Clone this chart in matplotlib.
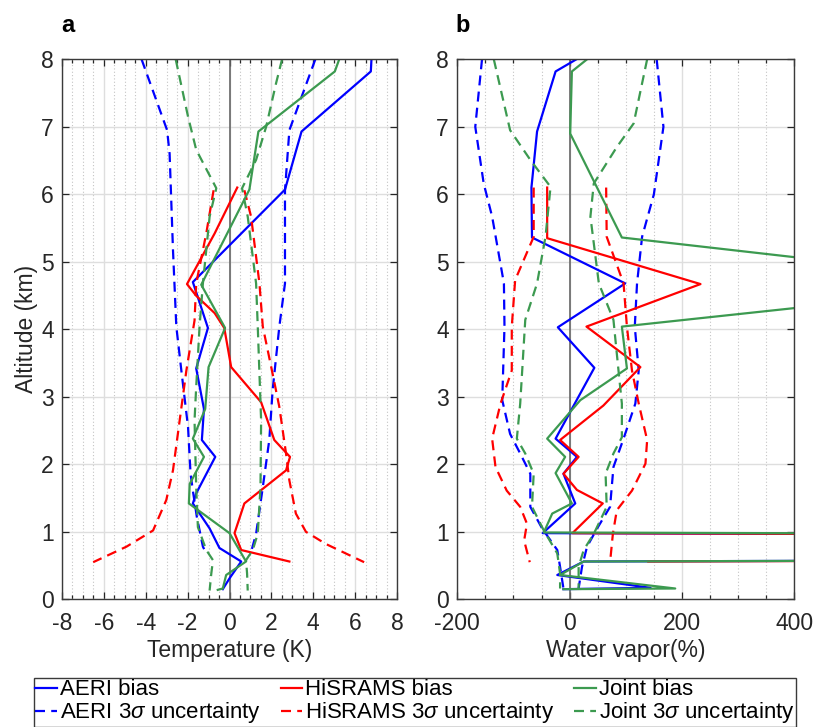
import numpy as np
import matplotlib
matplotlib.use('Agg')
import matplotlib.pyplot as plt
from matplotlib.ticker import MultipleLocator

plt.rcParams['font.family'] = ['Liberation Sans', 'DejaVu Sans']
plt.rcParams['axes.unicode_minus'] = False
plt.rcParams['mathtext.fontset'] = 'custom'
plt.rcParams['mathtext.it'] = 'Liberation Sans:italic'

# ---- a: temperature (K) ----
t_aeri_bias_x = [6.78, 6.75, 3.44, 2.65, -1.75, -1.03, -1.59, -1.22, -1.32, -0.68, -1.59, -1.75, -0.95, -0.48, 0.56, 0.0, -0.32]
t_aeri_bias_y = [8.0, 7.82, 6.93, 6.07, 4.70, 4.02, 3.42, 2.82, 2.36, 2.11, 1.57, 1.42, 1.05, 0.76, 0.56, 0.31, 0.15]
t_hisrams_bias_x = [0.37, -0.71, -2.03, -1.6, -0.71, -0.25, 0.08, 1.51, 2.14, 2.89, 2.7, 0.71, 0.24, 0.56, 2.86]
t_hisrams_bias_y = [6.10, 5.42, 4.67, 4.50, 4.24, 4.02, 3.44, 2.92, 2.36, 2.11, 1.91, 1.42, 0.98, 0.73, 0.56]
t_joint_bias_x = [5.24, 5.03, 1.38, 0.95, -1.35, -0.21, -1.0, -1.16, -1.75, -1.22, -1.9, -1.94, 0.0, 0.79, -0.16, -0.32, -0.56]
t_joint_bias_y = [8.0, 7.82, 6.93, 6.07, 4.66, 4.02, 3.44, 2.82, 2.38, 2.11, 1.71, 1.42, 0.98, 0.56, 0.36, 0.16, 0.14]

t_aeri_lo_x = [-4.2, -2.98, -2.86, -2.7, -2.54, -2.3, -1.98, -1.86, -1.75, -1.56, -1.27, -1.11]
t_aeri_lo_y = [8.0, 6.95, 6.6, 5.18, 4.04, 3.39, 2.55, 1.86, 1.61, 1.22, 0.78, 0.68]
t_aeri_hi_x = [4.1, 2.86, 2.65, 2.65, 2.38, 2.06, 1.9, 1.59, 1.27, 1.03]
t_aeri_hi_y = [8.0, 6.95, 6.06, 4.68, 4.04, 3.10, 2.36, 1.66, 0.97, 0.70]
t_hisrams_lo_x = [-0.76, -1.11, -1.59, -1.67, -2.06, -2.38, -2.7, -3.02, -3.65, -4.92, -6.51]
t_hisrams_lo_y = [6.06, 5.42, 4.68, 4.13, 3.39, 2.65, 1.91, 1.47, 1.02, 0.78, 0.55]
t_hisrams_hi_x = [0.71, 1.03, 1.43, 1.59, 2.06, 2.38, 2.7, 2.86, 3.17, 3.65, 4.6, 6.43]
t_hisrams_hi_y = [6.06, 5.67, 4.68, 4.04, 3.34, 2.85, 2.16, 1.76, 1.27, 1.0, 0.82, 0.55]
t_joint_lo_x = [-2.57, -1.98, -1.59, -0.63, -0.95, -1.27, -1.43, -1.59, -1.67, -1.59, -1.51, -1.11, -0.79, -0.87, -0.95]
t_joint_lo_y = [8.0, 7.15, 6.66, 6.09, 5.67, 4.68, 4.04, 3.15, 2.65, 1.66, 1.07, 0.73, 0.58, 0.38, 0.13]
t_joint_hi_x = [2.51, 2.22, 1.75, 1.27, 0.6, 0.87, 1.27, 1.35, 1.51, 1.48, 1.35, 1.11, 0.79, 0.84, 0.87]
t_joint_hi_y = [8.0, 7.64, 7.0, 6.51, 6.09, 5.67, 4.68, 4.04, 2.65, 1.66, 0.97, 0.73, 0.58, 0.38, 0.13]

# ---- b: water vapor (%) ----
q_aeri_bias_x = [12, -25, -58, -68, -67, 99, -21, 44, -25, 13, -11, 10, -48, 9000, 25, -22, 144, -11]
q_aeri_bias_y = [8.0, 7.82, 6.93, 6.10, 5.36, 4.68, 4.03, 3.43, 2.38, 2.11, 1.86, 1.42, 0.98, 0.77, 0.56, 0.36, 0.17, 0.15]
q_hisrams_bias_x = [-40, -40, 233, 30, 126, 60, -17, 16, -11, 13, 59, 5, 9000, 140]
q_hisrams_bias_y = [6.10, 5.35, 4.67, 4.04, 3.44, 2.87, 2.36, 2.11, 1.86, 1.62, 1.42, 0.98, 0.77, 0.56]
q_joint_bias_x = [31, 4, 1, 93, 810, 93, 102, 19, -40, -8, -25, 4, -31, -46, 9000, 25, -17, 188, -11]
q_joint_bias_y = [8.0, 7.82, 6.90, 5.36, 4.68, 4.04, 3.42, 2.95, 2.38, 2.11, 1.87, 1.42, 1.27, 0.99, 0.77, 0.56, 0.36, 0.16, 0.15]

q_aeri_lo_x = [-156, -168, -153, -138, -117, -116, -120, -106, -88, -70, -70, -49, -22, -17, -11]
q_aeri_lo_y = [8.0, 7.0, 6.16, 5.67, 4.68, 4.04, 2.95, 2.45, 2.16, 1.86, 1.37, 1.05, 0.73, 0.48, 0.16]
q_aeri_hi_x = [155, 167, 150, 129, 120, 116, 123, 117, 96, 78, 72, 49, 31, 22, 16]
q_aeri_hi_y = [8.0, 7.0, 6.0, 5.37, 4.68, 4.04, 3.39, 2.9, 2.38, 1.96, 1.37, 1.05, 0.78, 0.48, 0.16]
q_hisrams_lo_x = [-64, -64, -97, -103, -103, -123, -138, -132, -112, -88, -76, -81, -71]
q_hisrams_lo_y = [6.1, 5.37, 4.73, 4.04, 3.39, 2.9, 2.38, 1.96, 1.61, 1.37, 1.12, 0.87, 0.55]
q_hisrams_hi_x = [65, 66, 96, 102, 111, 123, 138, 135, 111, 84, 77, 72]
q_hisrams_hi_y = [6.1, 5.37, 4.68, 4.04, 3.39, 2.9, 2.36, 2.01, 1.61, 1.32, 0.97, 0.55]
q_joint_lo_x = [-135, -106, -70, -34, -43, -58, -79, -88, -94, -79, -64, -67, -46, -22, -17, -17]
q_joint_lo_y = [8.0, 6.95, 6.51, 6.11, 5.37, 4.68, 4.14, 2.9, 2.38, 2.16, 1.86, 1.37, 1.02, 0.68, 0.38, 0.16]
q_joint_hi_x = [138, 114, 84, 43, 37, 52, 78, 87, 93, 93, 78, 64, 66, 43, 25, 16, 16]
q_joint_hi_y = [8.0, 7.05, 6.7, 6.16, 5.67, 4.68, 4.14, 3.39, 2.9, 2.4, 2.16, 1.86, 1.37, 0.97, 0.73, 0.48, 0.16]

c_aeri = '#0000ff'
c_his = '#ff0000'
c_joint = '#3c9a50'
lw = 1.6
dash = (4.5, 2.8)
fs = 16.5

fig = plt.figure(figsize=(8.16, 7.27), dpi=100)
ax1 = fig.add_axes([62/816, 1-599.3/727, 335/816, 540/727])
ax2 = fig.add_axes([457.3/816, 1-599.3/727, 337/816, 540/727])


def style_axis(ax, xlim, major, minor):
    ax.set_xlim(*xlim)
    ax.set_ylim(0, 8)
    ax.xaxis.set_major_locator(MultipleLocator(major))
    ax.xaxis.set_minor_locator(MultipleLocator(minor))
    ax.yaxis.set_major_locator(MultipleLocator(1))
    ax.grid(which='major', color='#dedede', lw=1.0, zorder=0)
    ax.grid(which='minor', axis='x', color='#c4c4c4', lw=0.8, ls=(0, (1, 2)), zorder=0)
    ax.set_axisbelow(True)
    ax.axvline(0, color='#666666', lw=1.2, zorder=1)
    ax.tick_params(which='both', direction='in', top=True, right=True,
                   labelsize=fs, colors='#262626', width=0.9)
    ax.tick_params(which='major', length=5)
    ax.tick_params(which='minor', length=3)
    ax.tick_params(axis='x', which='major', pad=9)
    ax.tick_params(axis='y', which='major', pad=6)
    for sp in ax.spines.values():
        sp.set_color('#3a3a3a')
        sp.set_linewidth(1.0)


style_axis(ax1, (-8, 8), 2, 0.5)
style_axis(ax2, (-200, 400), 200, 50)

# panel a
ax1.plot(t_aeri_bias_x, t_aeri_bias_y, color=c_aeri, lw=lw, label='AERI bias')
ax1.plot(t_aeri_lo_x, t_aeri_lo_y, color=c_aeri, lw=lw, ls='--', dashes=dash, label='AERI 3$\\sigma$ uncertainty')
ax1.plot(t_aeri_hi_x, t_aeri_hi_y, color=c_aeri, lw=lw, ls='--', dashes=dash)
ax1.plot(t_hisrams_bias_x, t_hisrams_bias_y, color=c_his, lw=lw, label='HiSRAMS bias')
ax1.plot(t_hisrams_lo_x, t_hisrams_lo_y, color=c_his, lw=lw, ls='--', dashes=dash, label='HiSRAMS 3$\\sigma$ uncertainty')
ax1.plot(t_hisrams_hi_x, t_hisrams_hi_y, color=c_his, lw=lw, ls='--', dashes=dash)
ax1.plot(t_joint_bias_x, t_joint_bias_y, color=c_joint, lw=lw, label='Joint bias')
ax1.plot(t_joint_lo_x, t_joint_lo_y, color=c_joint, lw=lw, ls='--', dashes=dash, label='Joint 3$\\sigma$ uncertainty')
ax1.plot(t_joint_hi_x, t_joint_hi_y, color=c_joint, lw=lw, ls='--', dashes=dash)

# panel b
ax2.plot(q_aeri_bias_x, q_aeri_bias_y, color=c_aeri, lw=lw)
ax2.plot(q_aeri_lo_x, q_aeri_lo_y, color=c_aeri, lw=lw, ls='--', dashes=dash)
ax2.plot(q_aeri_hi_x, q_aeri_hi_y, color=c_aeri, lw=lw, ls='--', dashes=dash)
ax2.plot(q_hisrams_bias_x, q_hisrams_bias_y, color=c_his, lw=lw)
ax2.plot(q_hisrams_lo_x, q_hisrams_lo_y, color=c_his, lw=lw, ls='--', dashes=dash)
ax2.plot(q_hisrams_hi_x, q_hisrams_hi_y, color=c_his, lw=lw, ls='--', dashes=dash)
ax2.plot(q_joint_bias_x, q_joint_bias_y, color=c_joint, lw=lw)
ax2.plot(q_joint_lo_x, q_joint_lo_y, color=c_joint, lw=lw, ls='--', dashes=dash)
ax2.plot(q_joint_hi_x, q_joint_hi_y, color=c_joint, lw=lw, ls='--', dashes=dash)

ax1.set_xlabel('Temperature (K)', fontsize=fs, color='#262626', labelpad=3)
ax2.set_xlabel('Water vapor(%)', fontsize=fs, color='#262626', labelpad=3)
ax1.set_ylabel('Altitude (km)', fontsize=fs, color='#262626', labelpad=2)

fig.text(68/816, 1-25/727, 'a', fontsize=17, fontweight='bold', ha='center', va='center')
fig.text(463/816, 1-25/727, 'b', fontsize=17, fontweight='bold', ha='center', va='center')

# legend, row-wise order (matplotlib fills by column)
h, l = ax1.get_legend_handles_labels()
leg = fig.legend(h, l, loc='upper left', ncol=3,
                 bbox_to_anchor=(34/816, 1-678/727),
                 fontsize=16, handlelength=0.98, handletextpad=0.12,
                 columnspacing=0.9, labelspacing=0.0, borderpad=0.06,
                 borderaxespad=0, fancybox=False, framealpha=1, edgecolor='#3a3a3a')
leg.get_frame().set_linewidth(1.0)

fig.savefig('out.png', dpi=100)
